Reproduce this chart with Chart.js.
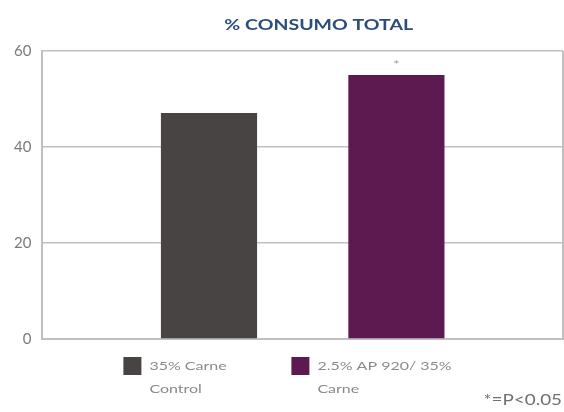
<!DOCTYPE html>
<html>
<head>
<meta charset="utf-8">
<script src="https://cdn.jsdelivr.net/npm/chart.js@4"></script>
<style>
  html, body { margin: 0; padding: 0; background: #fff; }
  #wrap { width: 564px; height: 412px; }
</style>
</head>
<body>
<div id="wrap"><canvas id="chart" width="564" height="412"></canvas></div>
<script>
// --- Data ---
const chartTitle = '% CONSUMO TOTAL';
const categories = [''];
const seriesNames = [['35% Carne', 'Control'], ['2.5% AP 920/ 35%', 'Carne']];
const consumo = [47.1, 55.0];
const significant = [false, true];
const yTicks = [0, 20, 40, 60];
const footnote = '*=P<0.05';

const barColors = ['#474443', '#5d1a50'];
const gridColor = '#c0c0c0';
const legendGray = '#8a8a8a';
const stretch = 1.3; // text in the picture is drawn wide

// draw text stretched horizontally around its anchor
function wideText(ctx, text, x, y, align) {
  ctx.save();
  ctx.translate(x, y);
  ctx.scale(stretch, 1);
  ctx.textAlign = align;
  ctx.fillText(text, 0, 0);
  ctx.restore();
}

// title, legend, asterisk and footnote
const textPlugin = {
  id: 'texts',
  afterDraw(chart) {
    const ctx = chart.ctx;
    const area = chart.chartArea;
    ctx.save();
    ctx.textBaseline = 'middle';

    // title
    ctx.fillStyle = '#2c4d7c';
    ctx.font = 'bold 15px Lato';
    wideText(ctx, chartTitle, area.left + (area.right - area.left) / 2 + 16, 25, 'center');

    // asterisk over significant bars
    ctx.fillStyle = '#9a9a9a';
    ctx.font = '11px Lato';
    chart.data.datasets.forEach((ds, i) => {
      if (!significant[i]) return;
      const el = chart.getDatasetMeta(i).data[0];
      wideText(ctx, '*', el.x, el.y - 10, 'center');
    });

    // legend
    const legendX = [area.left + 81, area.left + 249];
    const top = area.bottom + 18;
    ctx.font = '12.3px Lato';
    chart.data.datasets.forEach((ds, i) => {
      ctx.fillStyle = ds.backgroundColor;
      ctx.fillRect(legendX[i], top, 18, 18);
      ctx.fillStyle = legendGray;
      ds.label.forEach((line, j) => {
        wideText(ctx, line, legendX[i] + 26, top + 9 + j * 23, 'left');
      });
    });

    // footnote
    ctx.fillStyle = '#707070';
    ctx.font = '14.5px Lato';
    wideText(ctx, footnote, chart.width - 2, chart.height - 12, 'right');
    ctx.restore();
  }
};

const datasets = seriesNames.map((name, i) => ({
  label: name,
  data: [consumo[i]],
  backgroundColor: barColors[i],
  borderWidth: 0,
  categoryPercentage: 0.72,
  barPercentage: 0.513
}));

new Chart(document.getElementById('chart'), {
  type: 'bar',
  data: { labels: categories, datasets },
  plugins: [textPlugin],
  options: {
    responsive: false,
    animation: false,
    layout: { padding: { left: 3, right: 1, top: 51, bottom: 73 } },
    plugins: {
      title: { display: false },
      legend: { display: false },
      tooltip: { enabled: false }
    },
    scales: {
      x: {
        offset: true,
        grid: { color: gridColor, lineWidth: 2, drawTicks: false, offset: true },
        border: { color: gridColor, width: 2 },
        ticks: { display: false }
      },
      y: {
        min: yTicks[0],
        max: yTicks[yTicks.length - 1],
        afterBuildTicks: axis => { axis.ticks = yTicks.map(v => ({ value: v })); },
        grid: { color: gridColor, lineWidth: 1.5, drawTicks: false },
        border: { color: gridColor, width: 2 },
        ticks: {
          padding: 11,
          color: '#7a7a7a',
          font: { family: 'Lato', size: 15 }
        }
      }
    }
  }
});
</script>
</body>
</html>
